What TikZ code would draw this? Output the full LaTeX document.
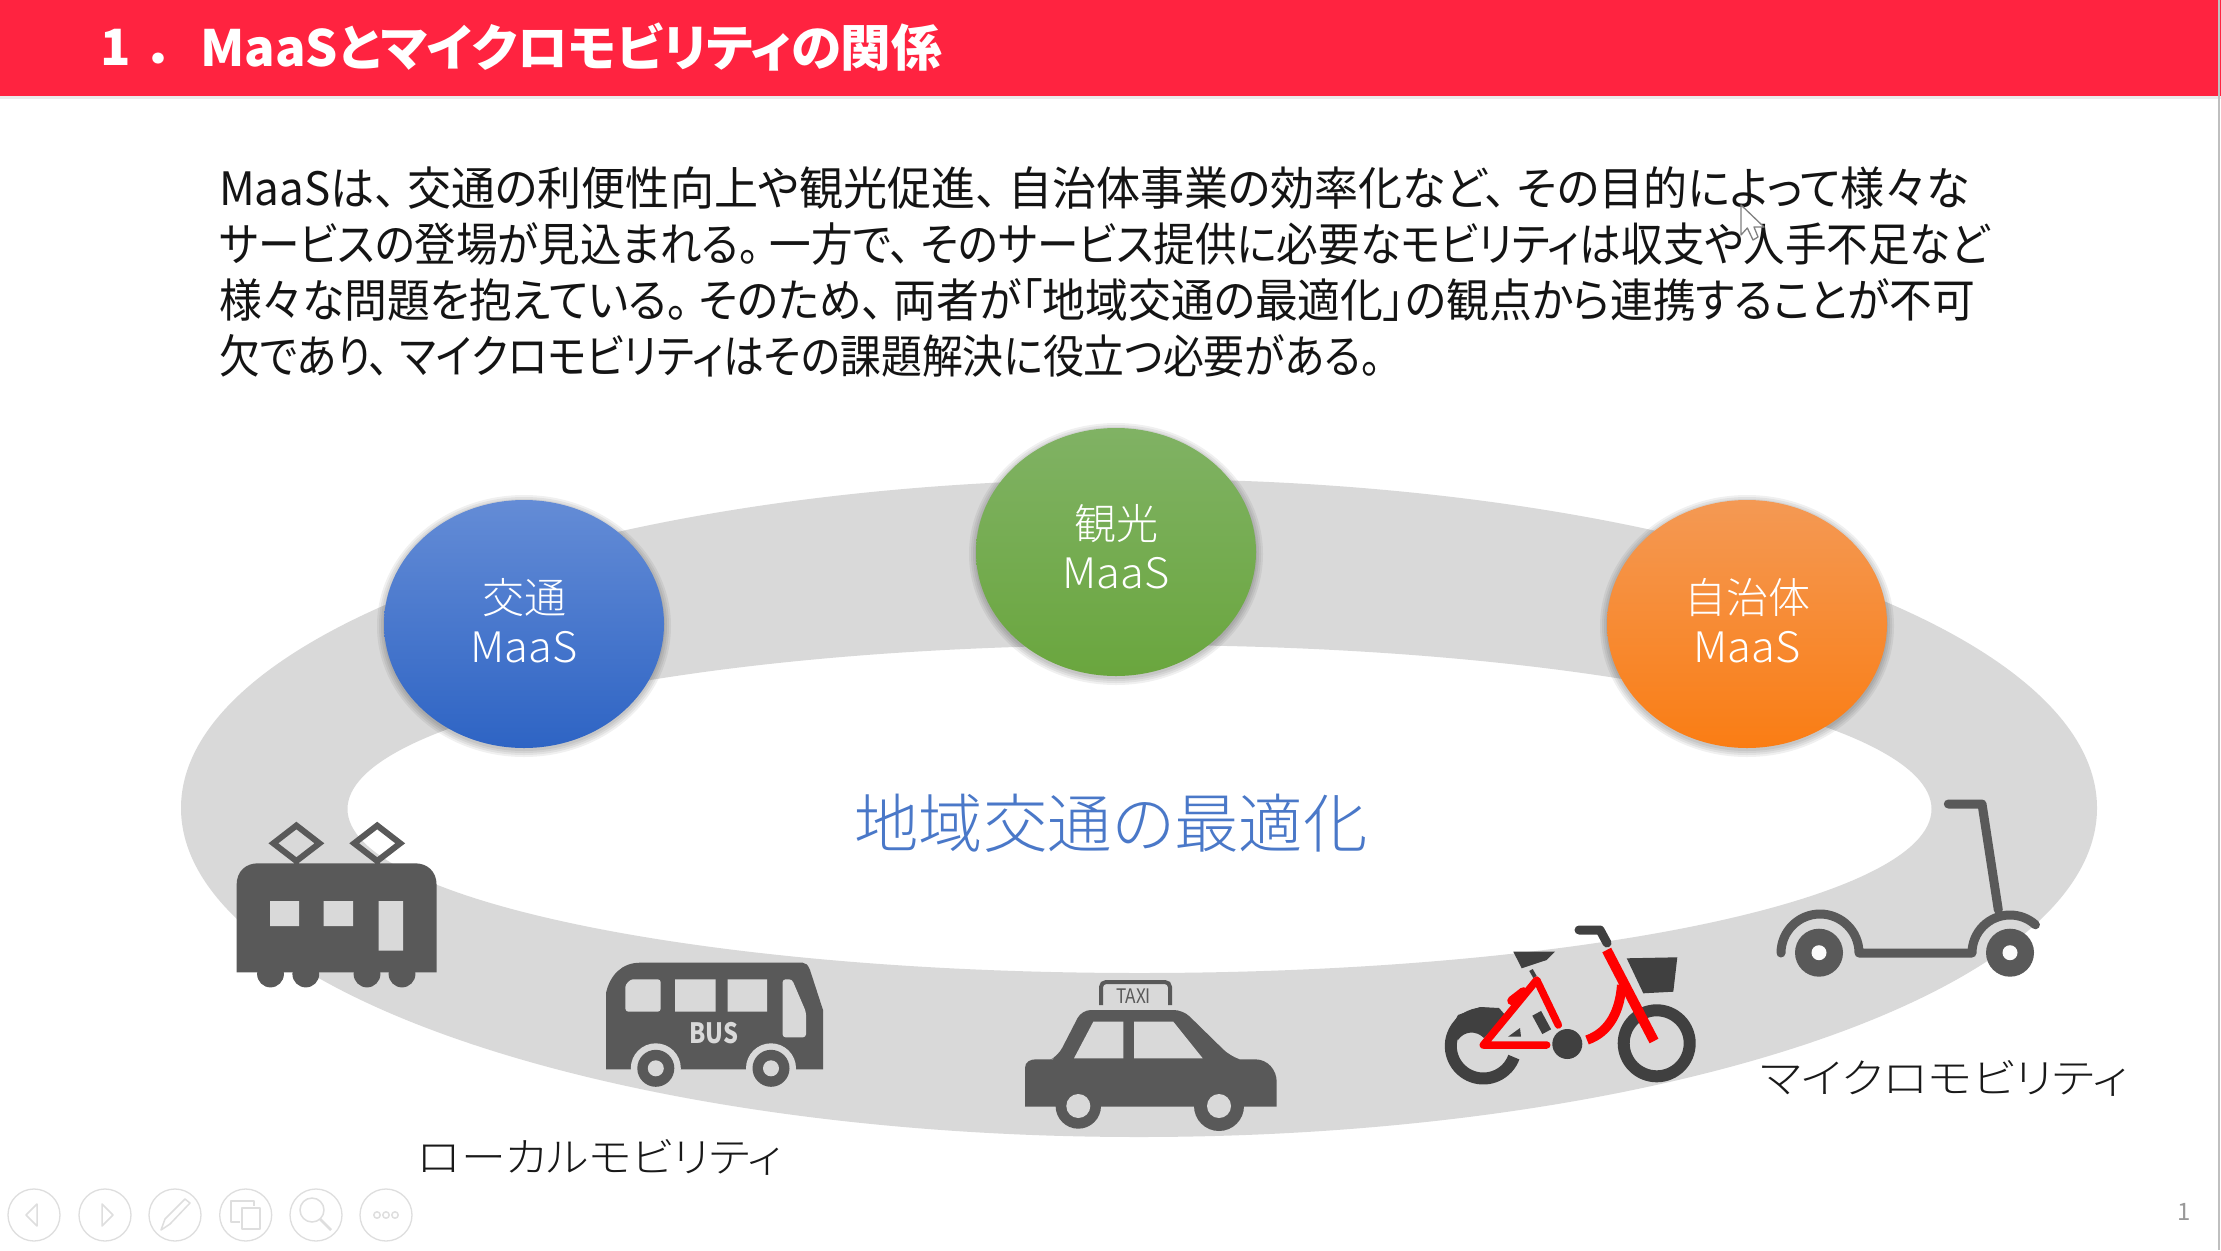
\documentclass[tikz,border=0pt]{standalone}
\usepackage{fontspec}
\usepackage{graphicx}
\setmainfont[RawFeature=+palt]{Noto Sans CJK JP}
\newfontfamily\jl[RawFeature=+palt]{Noto Sans CJK JP Light}
\usetikzlibrary{shapes.geometric}
\definecolor{hdr}{HTML}{FF2340}
\definecolor{ringc}{HTML}{D9D9D9}
\definecolor{ico}{HTML}{595959}
\definecolor{icod}{HTML}{404040}
\definecolor{uic}{HTML}{DEDEDE}
\definecolor{bluet}{HTML}{4A78C8}
\newcommand{\fitw}[2]{\resizebox{#1pt}{\height}{#2}}
\newcommand{\fs}[1]{\fontsize{#1}{#1}\selectfont}
\newcommand{\pk}{\kern 11pt}
\newcommand{\mss}{\fitw{107}{MaaS}}
\tikzset{
  bodyline/.style={anchor=west,inner sep=0pt,text=black!92},
  sphere/.style={ellipse,minimum width=280pt,minimum height=248pt,inner sep=0pt},
  spheretxt/.style={inner sep=0pt,align=center,text=white,font=\jl\fs{42},execute at begin node={\baselineskip=49pt}},
  lab/.style={inner sep=0pt,text=black!90},
  uicirc/.style={draw=uic,line width=1.3pt,fill=white},
  uiline/.style={draw=uic,line width=1.5pt,line join=round},
  redt/.style={draw=red,line width=7.5pt,line cap=round,line join=round},
  darkl/.style={draw=icod}
}
\begin{document}
\begin{tikzpicture}[x=1pt,y=-1pt]
\useasboundingbox (0,0) rectangle (2221,1250);
\fill[white] (0,0) rectangle (2221,1250);
% header
\fill[black,opacity=.08] (0,96) rectangle (2221,99);
\fill[hdr] (0,0) rectangle (2221,96);
\node[anchor=west,inner sep=0pt,text=white] (titlenum) at (100,47) {\fs{50}\bfseries 1\kern 20pt．};
\node[anchor=west,inner sep=0pt,text=white] (title) at (200,47) {\fitw{742}{\fs{50}\bfseries MaaSとマイクロモビリティの関係}};
% body
\node[bodyline] (l1) at (219,188) {\fitw{1750}{\fs{46}MaaSは、\pk 交通の利便性向上や観光促進、\pk 自治体事業の効率化など、\pk その目的によって様々な}};
\node[bodyline] (l2) at (219,244) {\fitw{1770}{\fs{46}サービスの登場が見込まれる。\pk 一方で、\pk そのサービス提供に必要なモビリティは収支や人手不足など}};
\node[bodyline] (l3) at (219,300) {\fitw{1756}{\fs{46}様々な問題を抱えている。\pk そのため、\pk 両者が「地域交通の最適化」の観点から連携することが不可}};
\node[bodyline] (l4) at (219,356) {\fitw{1162}{\fs{46}欠であり、\pk マイクロモビリティはその課題解決に役立つ必要がある。}};
% ring
\fill[ringc,even odd rule] (1139,808) ellipse [x radius=958,y radius=329] (1139.5,809) ellipse [x radius=792,y radius=164];
% soft shadows of spheres
\foreach \cx/\cy in {524/624,1116/552,1747/624}{
  \foreach \g in {7,5,3,1}{
    \fill[black,opacity=.06] (\cx,\cy+2) ellipse [x radius=140+\g,y radius=124+\g];
  }
}
\node[sphere,top color={rgb,255:red,100;green,140;blue,214},bottom color={rgb,255:red,46;green,100;blue,196}] (bluec) at (524,624) {};
\node[sphere,top color={rgb,255:red,128;green,178;blue,100},bottom color={rgb,255:red,106;green,166;blue,62}] (greenc) at (1116,552) {};
\node[sphere,top color={rgb,255:red,244;green,153;blue,84},bottom color={rgb,255:red,250;green,125;blue,20}] (orangec) at (1747,624) {};
\node[spheretxt] (bluet1) at (524,621) {交通\\\mss};
\node[spheretxt] (greent1) at (1116,547) {観光\\\mss};
\node[spheretxt] (oranget1) at (1747,621) {自治体\\\mss};
\node[inner sep=0pt,text=bluet] (centre) at (1111,823) {\fitw{513}{\jl\fs{64}地域交通の最適化}};
% train
\fill[ico] (236.6,972.3) -- (236.6,885) .. controls (236.6,871) and (246,863.3) .. (258,863.3) -- (415,863.3) .. controls (427,863.3) and (436.6,871) .. (436.6,885) -- (436.6,972.3) -- cycle;
\foreach \wx in {270.5,305.8,367,402}{\fill[ico] (\wx,974) circle [radius=13.4];}
\fill[ringc] (270,901) rectangle (299,926) (323.7,901) rectangle (353,926) (378.6,901) rectangle (403,950.7);
\foreach \dx in {296.4,377.2}{
  \draw[ico,line width=6pt,line join=miter] (\dx-23,843.3) -- (\dx,825.5) -- (\dx+23,843.3) -- (\dx,861) -- cycle;
  \draw[ico,line width=5pt] (\dx,861) -- (\dx,866);
}
% bus
\fill[ico] (606,1069.3) -- (606,993) .. controls (610,975) and (622,962.7) .. (640,962.7) -- (802.7,962.7) .. controls (806,962.7) and (808,965) .. (810,970) -- (823,1010) -- (823,1069.3) -- cycle;
\fill[ringc,rounded corners=3pt] (625.4,1011.7) -- (625.4,990) .. controls (625.4,984) and (630,979.3) .. (636,979.3) -- (660.7,979.3) -- (660.7,1011.7) -- cycle;
\fill[ringc] (675,979.3) rectangle (715.6,1011.7) (727.7,979.3) rectangle (767,1011.7);
\fill[ringc,rounded corners=3pt] (782.6,979.3) -- (792,979.3) -- (806,1012) -- (806,1037.3) -- (782.6,1037.3) -- cycle;
\node[inner sep=0pt,text=ringc] (bustxt) at (714,1033) {\fitw{49}{\fs{28}\bfseries BUS}};
\begin{scope}
\clip (606,1000) rectangle (823,1069.3);
\foreach \wx in {655.8,771}{\fill[ringc] (\wx,1068.3) circle [radius=25];}
\end{scope}
\foreach \wx in {655.8,771}{
  \fill[ico] (\wx,1068.3) circle [radius=18.5];
  \fill[ringc] (\wx,1068.3) circle [radius=8];
}
% taxi
\fill[ico] (1025,1068) .. controls (1025,1062) and (1030,1059.3) .. (1036,1059.3) -- (1255,1059.3) .. controls (1268,1059.3) and (1276.7,1070) .. (1276.7,1082) -- (1276.7,1106.7) -- (1025,1106.7) -- cycle;
\fill[ico,rounded corners=9pt] (1048,1061) -- (1058,1056) -- (1081.7,1010) -- (1183,1010) -- (1230,1056) -- (1245,1061) -- cycle;
\fill[ringc] (1074,1058.3) -- (1093.3,1021.7) -- (1123.3,1021.7) -- (1123.3,1058.3) -- cycle;
\fill[ringc] (1134,1021.7) -- (1173.3,1021.7) -- (1202.7,1058.3) -- (1134,1058.3) -- cycle;
\foreach \wx/\wr in {1078.3/22.7,1219/25}{
  \fill[ico] (\wx,1106) circle [radius=\wr];
  \fill[ringc] (\wx,1106) circle [radius=12];
}
\draw[ico,line width=4pt,rounded corners=5pt] (1101,1005) -- (1101,982) -- (1170,982) -- (1170,1005);
\node[inner sep=0pt,text=ico] (taxitxt) at (1133.5,996) {\fitw{35}{\fs{20}TAXI}};
% bicycle
\draw[icod,line width=12pt] ({1483.3+32.5*cos(20)},{1046+32.5*sin(20)}) arc [start angle=20,end angle=300,radius=32.5];
\fill[icod] (1458,1040) .. controls (1464,1031) and (1476,1030) .. (1484,1038) -- (1506,1016) -- (1499,1008) -- (1480,1007) -- (1458,1015) -- (1450,1030) -- cycle;
\draw[icod,line width=12pt] (1656.7,1043.3) circle [radius=33];
\draw[darkl,line width=10pt] (1536.7,1013.3) -- (1546.7,1031.7);
\fill[icod] (1508,1036.7) -- (1520,1028) -- (1521,1036.7) -- cycle;
\draw[darkl,line width=4pt] (1531,970) -- (1535,977);
\fill[icod] (1513.3,951.7) -- (1555,951.7) -- (1546.7,960) -- (1521.7,968.3) -- cycle;
\draw[icod,line width=9pt,line cap=round,line join=round] (1579,930) -- (1600,930) -- (1607,943);
\fill[icod] (1626.7,958.3) -- (1677.3,957.3) -- (1673.3,991.7) -- (1643.3,993.3) -- cycle;
\draw[redt] (1546.7,1045) -- (1483.3,1045) -- (1536.7,980) -- (1558.3,1025);
\draw[redt,line width=9pt] (1511.7,1000.7) -- (1523.3,991.7);
\draw[red,line width=10pt,line join=round] (1606.7,950) -- (1654,1041);
\draw[red,line width=9.5pt] (1621.7,985) .. controls (1620,1010) and (1610,1032) .. (1587,1040);
\fill[icod] (1567.3,1044) circle [radius=15];
% scooter
\draw[ico,line width=9pt,line cap=round,line join=round] (1948.3,804) -- (1982,804) -- (1998.3,910);
\draw[ico,line width=9pt,line cap=round,line join=round] (1781,953) arc [start angle=180,end angle=360,radius=39] -- (1972,953) arc [start angle=180,end angle=312,radius=38];
\foreach \wx in {1819,2010}{
  \fill[ico] (\wx,952.7) circle [radius=24];
  \fill[white!90!ringc] (\wx,952.7) circle [radius=7.5];
}
% labels
\node[lab] (local) at (600,1157) {\fitw{365}{\jl\fs{41}ローカルモビリティ}};
\node[lab] (micro) at (1944,1078) {\fitw{368}{\jl\fs{41}マイクロモビリティ}};
% UI buttons
\foreach \cx/\nm in {34/a,105/b,175/c,245.7/d,316/e,386/f}{
  \node[uicirc,circle,minimum size=52pt,inner sep=0pt] (ui\nm) at (\cx,1215) {};
}
\draw[uiline] (37,1204) -- (26,1215) -- (37,1226) -- cycle;
\draw[uiline] (102,1204) -- (113,1215) -- (102,1226) -- cycle;
\draw[uiline] (161,1230) -- (165,1219) -- (185,1199) -- (190,1203) -- (170,1224) -- cycle;
\draw[uiline] (231,1201) rectangle (254,1222);
\fill[white] (240,1206) rectangle (262,1230);
\draw[uiline] (242,1208) rectangle (260,1229);
\draw[uiline] (312,1210) circle [radius=12];
\draw[uiline,line width=2.5pt] (320,1219) -- (331,1230);
\foreach \dx in {377,386,395}{\draw[uiline] (\dx,1215) circle [radius=3.2];}
\node[inner sep=0pt,text=black!40] (pagenum) at (2184,1212) {\fs{24}1};
% cursor
\draw[fill=white,draw=black!50,line width=1.3pt,line join=round] (1741,205) -- (1741,235) -- (1747.3,228) -- (1753,240) -- (1758,237) -- (1754,227) -- (1764,227) -- cycle;
\draw[black!25,line width=1.5pt] (2219,0) -- (2219,1250);
\end{tikzpicture}
\end{document}
